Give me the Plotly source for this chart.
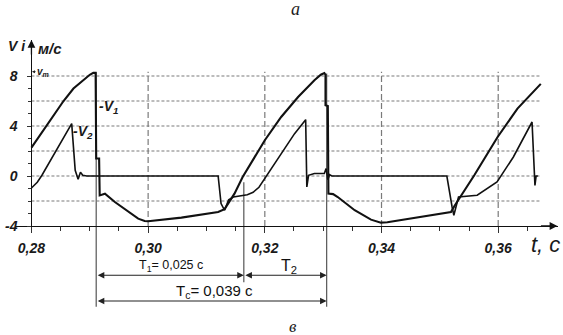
import plotly.graph_objects as go

# ---------------- data ----------------
t_v1 = [0.2800, 0.2825, 0.2855, 0.2872, 0.2889, 0.2900, 0.2906, 0.2910, 0.2911, 0.2916,
        0.2917, 0.2921, 0.2926, 0.2943, 0.2966, 0.2983, 0.2994, 0.3000, 0.3057, 0.3120,
        0.3131, 0.3148, 0.3162, 0.3179, 0.3200, 0.3228, 0.3257, 0.3285, 0.3296, 0.3302,
        0.3304, 0.3304, 0.3308, 0.3309, 0.3313, 0.3317, 0.3325, 0.3354, 0.3382, 0.3399,
        0.3410, 0.3519, 0.3525, 0.3559, 0.3599, 0.3633, 0.3673]
v_v1 = [2.27, 4.0, 6.0, 7.0, 7.7, 8.1, 8.25, 8.25, 1.4, 1.4,
        -1.55, -1.5, -1.41, -2.08, -2.88, -3.41, -3.6, -3.62, -3.33, -2.88,
        -2.65, -1.41, -0.08, 1.26, 2.86, 4.72, 6.32, 7.66, 8.1, 8.24,
        8.1, 5.66, 5.6, -1.4, -1.41, -1.45, -1.68, -2.74, -3.49, -3.73,
        -3.7, -2.88, -2.4, 0.06, 3.12, 5.39, 7.37]

t_v2 = [0.2800, 0.2810, 0.2818, 0.2869, 0.2875, 0.2880, 0.2884, 0.2888, 0.2895, 0.3120,
        0.3125, 0.3131, 0.3138, 0.3146, 0.3170, 0.3180, 0.3190, 0.3200, 0.3205, 0.3228,
        0.3251, 0.3270, 0.3272, 0.3275, 0.3285, 0.3302, 0.3305, 0.3308, 0.3311, 0.3315,
        0.3512, 0.3521, 0.3524, 0.3532, 0.3564, 0.3598, 0.3626, 0.3658, 0.3661, 0.3663,
        0.3665, 0.3668]
v_v2 = [-0.96, -0.5, 0.06, 4.19, 0.46, -0.26, 0.3, 0.06, 0.0, 0.0,
        -2.2, -2.74, -1.9, -1.68, -1.5, -1.3, -0.9, -0.2, 0.19, 1.79,
        3.39, 4.51, -0.88, 0.06, 0.2, 0.2, 0.6, -0.3, 0.1, 0.0,
        0.0, -2.48, -3.14, -1.68, -1.54, -0.48, 1.52, 4.32, 0.3, -0.75,
        0.0, 0.0]

x_tick_vals = [0.28, 0.30, 0.32, 0.34, 0.36]
x_tick_text = ["0,28", "0,30", "0,32", "0,34", "0,36"]
y_tick_vals = [8, 4, 0, -4]
y_tick_text = ["8", "4", "0", "-4"]
h_grid = [8, 6, 4, 2, 0, -2]
v_grid = [0.30, 0.32, 0.34, 0.36]
period_bounds = [0.2911, 0.3164, 0.3306]   # cycle start, end of T1, end of cycle
t1_label = "T<sub>1</sub>= 0,025 c"
t2_label = "T<sub>2</sub>"
tc_label = "T<sub>c</sub>= 0,039 c"

# ---------------- layout geometry ----------------
W, H = 563, 335
ML, MR, MT, MB = 13, 5, 40, 109
X_RANGE = [0.277182, 0.37025]
Y_RANGE = [-4.0, 10.88]
Y_AXIS_POS = (0.28 - X_RANGE[0]) / (X_RANGE[1] - X_RANGE[0])
GRID_T_END = 0.3672
GRID_V_TOP = 8.35


def py(v):
    """value on the y scale -> paper fraction (works outside the range too)"""
    return (v - Y_RANGE[0]) / (Y_RANGE[1] - Y_RANGE[0])


def pxp(px):
    """pixel column of the page -> paper fraction"""
    return (px - ML) / (W - ML - MR)


fig = go.Figure()
fig.add_trace(go.Scatter(x=t_v1, y=v_v1, mode="lines",
                         line=dict(color="#111", width=2.1), showlegend=False))
fig.add_trace(go.Scatter(x=t_v2, y=v_v2, mode="lines",
                         line=dict(color="#111", width=1.6), showlegend=False))

shapes = []
for v in h_grid:
    shapes.append(dict(type="line", xref="x", yref="y", x0=0.28, x1=GRID_T_END, y0=v, y1=v,
                       line=dict(color="#7a7a7a", width=1.2, dash="3px,2px"), layer="below"))
for t in v_grid:
    shapes.append(dict(type="line", xref="x", yref="y", x0=t, x1=t, y0=Y_RANGE[0], y1=GRID_V_TOP,
                       line=dict(color="#7a7a7a", width=1.2, dash="6px,3px"), layer="below"))
t0, t1, t2 = period_bounds
for t, vtop, vbot in [(t0, 8.3, -10.45), (t1, -0.5, -8.5), (t2, 8.2, -10.45)]:
    shapes.append(dict(type="line", xref="x", yref="paper", x0=t, x1=t, y0=py(vtop), y1=py(vbot),
                       line=dict(color="#555", width=1.2), layer="below"))

font_it = dict(family="Liberation Sans", color="#1a1a1a", style="italic", weight="bold")
font_sans = dict(family="Liberation Sans", color="#111")
font_serif = dict(family="Liberation Serif", color="#1a1a1a", style="italic")
C = dict(xanchor="center", yanchor="middle", showarrow=False)

ann = []
# dimension arrows
for xa, xb, vv in [(t0, t1, -7.94), (t1, t2, -7.94), (t0, t2, -10.0)]:
    ann.append(dict(x=xb, y=py(vv), xref="x", yref="paper", ax=xa, ay=0, axref="x", ayref="pixel",
                    text="", showarrow=True, arrowside="end+start", arrowhead=2, arrowsize=1.1,
                    arrowwidth=1.2, arrowcolor="#222"))
ann.append(dict(x=(t0 + t1) / 2 + 0.0002, y=py(-7.2), xref="x", yref="paper", text=t1_label,
                font=dict(size=12.5, **font_sans), **C))
ann.append(dict(x=(t1 + t2) / 2 + 0.0006, y=py(-7.2), xref="x", yref="paper", text=t2_label,
                font=dict(size=16, **font_sans), **C))
ann.append(dict(x=(t0 + t2) / 2 + 0.0005, y=py(-9.25), xref="x", yref="paper", text=tc_label,
                font=dict(size=15, **font_sans), **C))
# axis arrows
ann.append(dict(x=X_RANGE[1] - 0.0001, y=Y_RANGE[0], xref="x", yref="y", ax=-18, ay=0, text="",
                showarrow=True, arrowhead=2, arrowsize=1.2, arrowwidth=1.3, arrowcolor="#111"))
ann.append(dict(x=0.28, y=Y_RANGE[1], xref="x", yref="y", ax=0, ay=16, text="",
                showarrow=True, arrowhead=2, arrowsize=1.2, arrowwidth=1.3, arrowcolor="#111"))
# axis titles / labels
ann.append(dict(x=pxp(545), y=py(-5.5), xref="paper", yref="paper", text="t, c",
                font=dict(size=22, family="Liberation Sans", color="#1a1a1a", style="italic"), **C))
ann.append(dict(x=pxp(15), y=py(10.38), xref="paper", yref="paper", text="V i",
                font=dict(size=14, **font_it), **C))
ann.append(dict(x=pxp(48), y=py(10.2), xref="paper", yref="paper", text="м/с",
                font=dict(size=15, **font_it), **C))
ann.append(dict(x=0.2801, y=8.35, xref="x", yref="y", ax=11, ay=0, text="v<sub>т</sub>",
                showarrow=True, arrowhead=2, arrowsize=0.6, arrowwidth=1, arrowcolor="#222",
                font=dict(size=10, **font_it)))
ann.append(dict(x=0.2932, y=5.5, xref="x", yref="y", text="-V<sub>1</sub>",
                font=dict(size=14, **font_it), **C))
ann.append(dict(x=0.2888, y=3.55, xref="x", yref="y", text="-V<sub>2</sub>",
                font=dict(size=14, **font_it), **C))
# figure letters
ann.append(dict(x=pxp(295), y=py(13.4), xref="paper", yref="paper", text="а",
                font=dict(size=18, **font_serif), **C))
ann.append(dict(x=pxp(292), y=py(-12.05), xref="paper", yref="paper", text="в",
                font=dict(size=17, **font_serif), **C))

x_minor = [round(0.28 + 0.005 * k, 3) for k in range(18)]
y_minor = list(range(-4, 9))

fig.update_layout(
    width=W, height=H, autosize=False,
    margin=dict(l=ML, r=MR, t=MT, b=MB, pad=0),
    plot_bgcolor="white", paper_bgcolor="white",
    shapes=shapes, annotations=ann, showlegend=False,
    xaxis=dict(range=X_RANGE, showgrid=False, zeroline=False, showline=True,
               linecolor="#111", linewidth=1.3, ticks="outside", ticklen=6, tickwidth=1,
               tickcolor="#333", tickvals=x_tick_vals, ticktext=x_tick_text,
               tickfont=dict(size=14, **font_it), ticklabelstandoff=3,
               minor=dict(tickvals=x_minor, ticks="outside", ticklen=4, tickcolor="#333")),
    yaxis=dict(range=Y_RANGE, anchor="free", position=Y_AXIS_POS, showgrid=False,
               zeroline=False, showline=True, linecolor="#111", linewidth=1.3,
               ticks="outside", ticklen=4, tickwidth=1, tickcolor="#333",
               tickvals=y_tick_vals, ticktext=y_tick_text,
               tickfont=dict(size=14, **font_it), ticklabelstandoff=7,
               minor=dict(tickvals=y_minor, ticks="outside", ticklen=3, tickcolor="#333")),
)

fig.write_html("out.html", config={"displayModeBar": False},
               post_script="document.body.style.margin='0';")
